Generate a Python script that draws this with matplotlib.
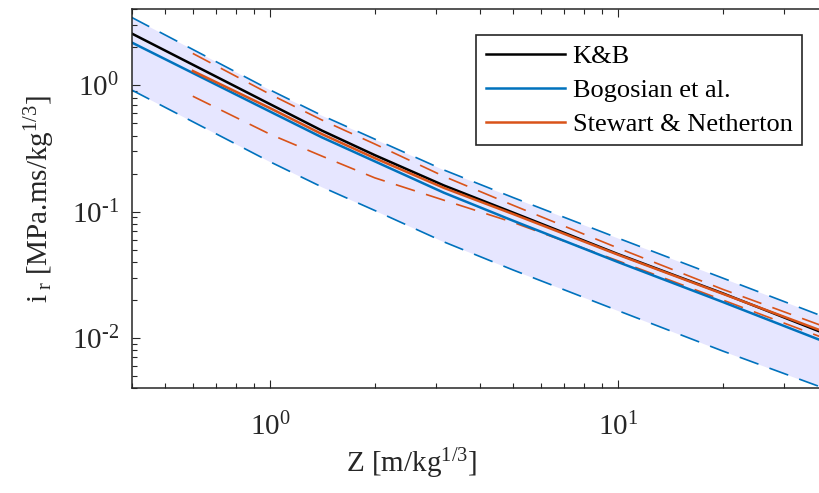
import math

import matplotlib
matplotlib.use('Agg')
from matplotlib import pyplot as plt
from matplotlib.ticker import FuncFormatter, LogLocator

plt.rcParams['font.family'] = ['Liberation Serif', 'DejaVu Serif']
plt.rcParams['mathtext.fontset'] = 'custom'
plt.rcParams['mathtext.rm'] = 'Liberation Serif'
plt.rcParams['mathtext.it'] = 'Liberation Serif:italic'
plt.rcParams['axes.unicode_minus'] = False

# scaled distance Z [m/kg^1/3]
z_bog = [0.4, 1, 1.41, 2, 3.16, 5, 10, 20, 40]
z_sn = [0.6, 1, 1.41, 2, 3.16, 5, 10, 20, 40]

# K&B
kb = [2.58, 0.71, 0.438, 0.28, 0.161, 0.098, 0.046, 0.0225, 0.0106]

# Bogosian et al. with bounds
bog = [2.19, 0.62, 0.387, 0.25, 0.141, 0.0845, 0.0398, 0.0192, 0.0091]
bog_up = [3.46, 0.92, 0.577, 0.375, 0.2135, 0.129, 0.0616, 0.0297, 0.0143]
bog_low = [0.92, 0.248, 0.1565, 0.102, 0.0575, 0.0344, 0.0164, 0.00785, 0.00389]

# Stewart & Netherton with bounds
sn = [1.30, 0.66, 0.411, 0.265, 0.154, 0.0955, 0.0455, 0.0223, 0.0109]
sn_up = [1.79, 0.85, 0.531, 0.343, 0.190, 0.112, 0.0514, 0.0242, 0.0120]
sn_low = [0.82, 0.41, 0.275, 0.185, 0.123, 0.082, 0.0407, 0.0199, 0.0097]

blue = '#0072BD'
orange = '#D95319'
axcol = '#262626'


def pow_label(v, pos):
    e = int(round(math.log10(v)))
    return r'$\mathdefault{10^{%s}}$' % str(e).replace('-', r'\text{-}')


fig = plt.figure(figsize=(8.2, 4.93), dpi=100)
ax = fig.add_axes([0.1604, 0.213, 0.8488, 0.768])

ax.fill_between(z_bog, bog_low, bog_up, color='#E6E6FF', lw=0)
ax.plot(z_bog, bog_up, color=blue, lw=1.2, dashes=(12, 7))
ax.plot(z_bog, bog_low, color=blue, lw=1.2, dashes=(12, 7))
ax.plot(z_sn, sn_up, color=orange, lw=1.2, dashes=(12, 7))
ax.plot(z_sn, sn_low, color=orange, lw=1.2, dashes=(12, 7))
ax.plot(z_bog, kb, color='black', lw=1.8, label='K&B')
ax.plot(z_bog, bog, color=blue, lw=1.8, label='Bogosian et al.')
ax.plot(z_sn, sn, color=orange, lw=1.8, label='Stewart & Netherton')

ax.set_xscale('log')
ax.set_yscale('log')
ax.set_xlim(0.4, 40)
ax.set_ylim(0.004, 4)
ax.xaxis.set_major_locator(LogLocator(base=10))
ax.yaxis.set_major_locator(LogLocator(base=10))
ax.xaxis.set_major_formatter(FuncFormatter(pow_label))
ax.yaxis.set_major_formatter(FuncFormatter(pow_label))

for s in ax.spines.values():
    s.set_linewidth(1.1)
    s.set_color(axcol)
ax.tick_params(which='both', direction='in', top=True, right=True,
               colors=axcol, labelsize=21, width=0.8)
ax.tick_params(which='major', length=6)
ax.tick_params(which='minor', length=3.5)
ax.tick_params(axis='x', which='major', pad=18)
ax.tick_params(axis='y', which='major', pad=9)

ax.set_xlabel(r'Z [m/kg$^{1/3}$]', fontsize=21, color=axcol)
ax.xaxis.set_label_coords(0.403, -0.155)
ax.set_ylabel(r'i$_{\ \mathrm{r}}$ [MPa.ms/kg$^{1/3}$]', fontsize=21, color=axcol)
ax.yaxis.set_label_coords(-0.107, 0.5)

leg = ax.legend(loc='upper right', bbox_to_anchor=(0.963, 0.932), fontsize=19,
                fancybox=False, framealpha=1, edgecolor=axcol, handlelength=3.0,
                borderpad=0.35, labelspacing=0.4, handletextpad=0.3,
                borderaxespad=0)
leg.get_frame().set_linewidth(1.2)

fig.savefig('out.png', dpi=100)
